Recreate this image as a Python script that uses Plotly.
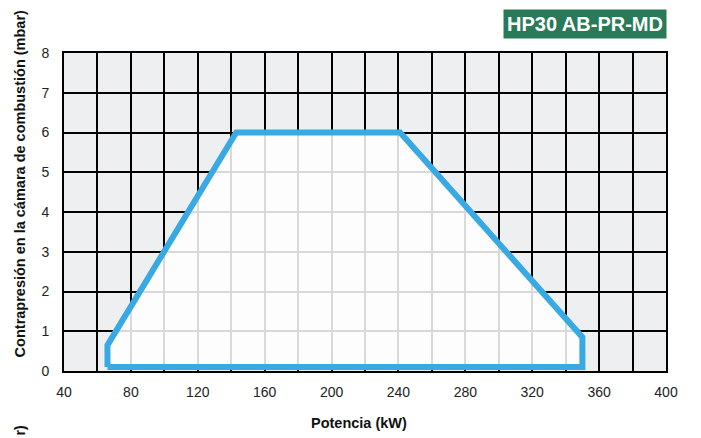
import plotly.graph_objects as go

# Envelope of the working range (kW vs mbar)
potencia = [66, 66, 143, 241, 350, 350, 66]
contrapresion = [0.1, 0.65, 6, 6, 0.85, 0.1, 0.1]

x_ticks = [40, 80, 120, 160, 200, 240, 280, 320, 360, 400]
y_ticks = [0, 1, 2, 3, 4, 5, 6, 7, 8]

BLUE = "#38A9E3"
GREEN = "#287A58"
FONT = "Liberation Sans, Arial, sans-serif"

fig = go.Figure()
fig.add_trace(go.Scatter(
    x=potencia, y=contrapresion,
    mode="lines",
    fill="toself",
    fillcolor="rgba(255,255,255,0.85)",
    line=dict(color=BLUE, width=6),
    hoverinfo="skip",
    showlegend=False,
))

# page body has an 8px margin, so the margins are shifted by that much
fig.update_layout(
    width=701, height=438,
    margin=dict(l=56, r=43, t=45, b=75),
    plot_bgcolor="#EEEFF1",
    paper_bgcolor="white",
    font=dict(family=FONT, size=14, color="#222"),
    showlegend=False,
)
fig.update_xaxes(
    range=[40, 400], tickvals=x_ticks, ticktext=[str(v) for v in x_ticks],
    showgrid=True, gridcolor="black", gridwidth=1.5,
    minor=dict(dtick=20, tick0=40, showgrid=True, gridcolor="black", gridwidth=1.5),
    showline=True, linecolor="black", linewidth=2, mirror=True,
    layer="below traces", zeroline=False, ticks="", ticklabelstandoff=7,
    tickfont=dict(size=14),
)
fig.update_yaxes(
    range=[0, 8], tickvals=y_ticks, ticktext=[str(v) for v in y_ticks],
    showgrid=True, gridcolor="black", gridwidth=1.5,
    showline=True, linecolor="black", linewidth=2, mirror=True,
    layer="below traces", zeroline=False, ticks="", ticklabelstandoff=10,
    tickfont=dict(size=14),
)

fig.add_annotation(
    text="<b>Potencia (kW)</b>", xref="paper", yref="paper",
    x=0.49, y=-0.165, xanchor="center", yanchor="middle",
    showarrow=False, font=dict(size=14.5, color="#111"),
)
fig.add_annotation(
    text="<b>Contrapresión en la cámara de combustión (mbar)</b>",
    xref="paper", yref="paper", x=-0.073, y=0.587,
    xanchor="center", yanchor="middle", textangle=-90,
    showarrow=False, font=dict(size=14.5, color="#111"),
)
fig.add_annotation(
    text="<b>r)</b>", xref="paper", yref="paper", x=-0.073, y=-0.165,
    xanchor="center", yanchor="top", textangle=-90,
    showarrow=False, font=dict(size=14, color="#111"),
)
fig.add_annotation(
    text="<b>HP30 AB-PR-MD</b>", xref="paper", yref="paper",
    x=1.002, y=1.044, xanchor="right", yanchor="bottom",
    showarrow=False, bgcolor=GREEN, borderpad=3,
    font=dict(size=20, color="white"),
)

fig.write_html("out.html")
